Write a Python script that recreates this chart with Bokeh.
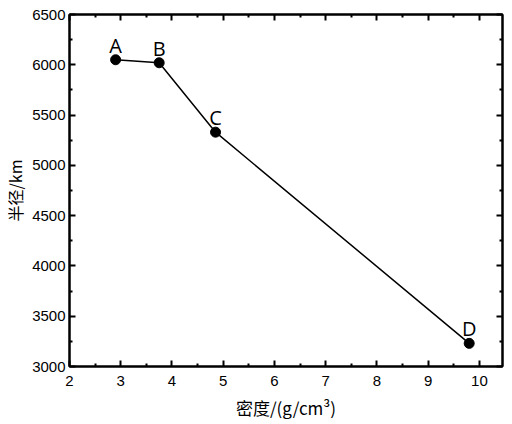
from bokeh.plotting import figure
from bokeh.models import LinearAxis, Range1d, FixedTicker, ColumnDataSource
from bokeh.core.properties import value
from bokeh.embed import file_html
from bokeh.resources import INLINE

# data
labels = ["A", "B", "C", "D"]
density = [2.9, 3.75, 4.85, 9.8]
radius = [6050, 6020, 5330, 3230]

x_ticks = [2, 3, 4, 5, 6, 7, 8, 9, 10]
x_minor = [2.5, 3.5, 4.5, 5.5, 6.5, 7.5, 8.5, 9.5, 10.5]
y_ticks = [3000, 3500, 4000, 4500, 5000, 5500, 6000, 6500]
y_minor = [3250, 3750, 4250, 4750, 5250, 5750, 6250]

CJK = "Noto Sans CJK SC"
SANS = "Liberation Sans"

p = figure(
    width=504, height=422,
    x_range=Range1d(2, 10.45), y_range=Range1d(3000, 6500),
    x_axis_label="密度/(g/cm³)", y_axis_label="半径/km",
    output_backend="svg", toolbar_location=None,
    min_border_left=56, min_border_right=2,
    min_border_top=14, min_border_bottom=50,
)
p.grid.visible = False
p.outline_line_color = "black"
p.outline_line_width = 2

bottom = p.below[0]
left = p.left[0]
top = LinearAxis()
right = LinearAxis()
p.add_layout(top, "above")
p.add_layout(right, "right")

for ax, ticks, minor in [(bottom, x_ticks, x_minor), (top, x_ticks, x_minor),
                         (left, y_ticks, y_minor), (right, y_ticks, y_minor)]:
    ax.ticker = FixedTicker(ticks=ticks, minor_ticks=minor)
    ax.axis_line_width = 2
    ax.major_tick_in = 6
    ax.major_tick_out = 0
    ax.minor_tick_in = 3
    ax.minor_tick_out = 0
    ax.major_tick_line_width = 2
    ax.minor_tick_line_width = 2
    ax.major_label_text_font = SANS
    ax.major_label_text_font_size = "15px"
    ax.major_label_text_color = "black"
    ax.major_label_standoff = 4
    ax.axis_label_text_font = CJK
    ax.axis_label_text_font_size = "16px"
    ax.axis_label_text_font_style = "normal"
    ax.axis_label_text_color = "black"

for ax in (top, right):
    ax.major_label_text_font_size = "0px"
    ax.major_label_standoff = 0
    ax.axis_label_standoff = 0

bottom.axis_label_text_font_size = "17px"
bottom.major_label_standoff = 9
bottom.axis_label_standoff = 6
left.axis_label_standoff = 2

src = ColumnDataSource(data=dict(x=density, y=radius, t=labels))
p.line("x", "y", source=src, line_color="black", line_width=1.5)
p.scatter("x", "y", source=src, size=10, color="black")
p.text("x", "y", text="t", source=src, text_font=value("Open Sans"),
       text_font_size="20px", text_align="center", text_baseline="bottom",
       y_offset=-1, text_color="black")

open("out.html", "w").write(file_html(p, INLINE))
